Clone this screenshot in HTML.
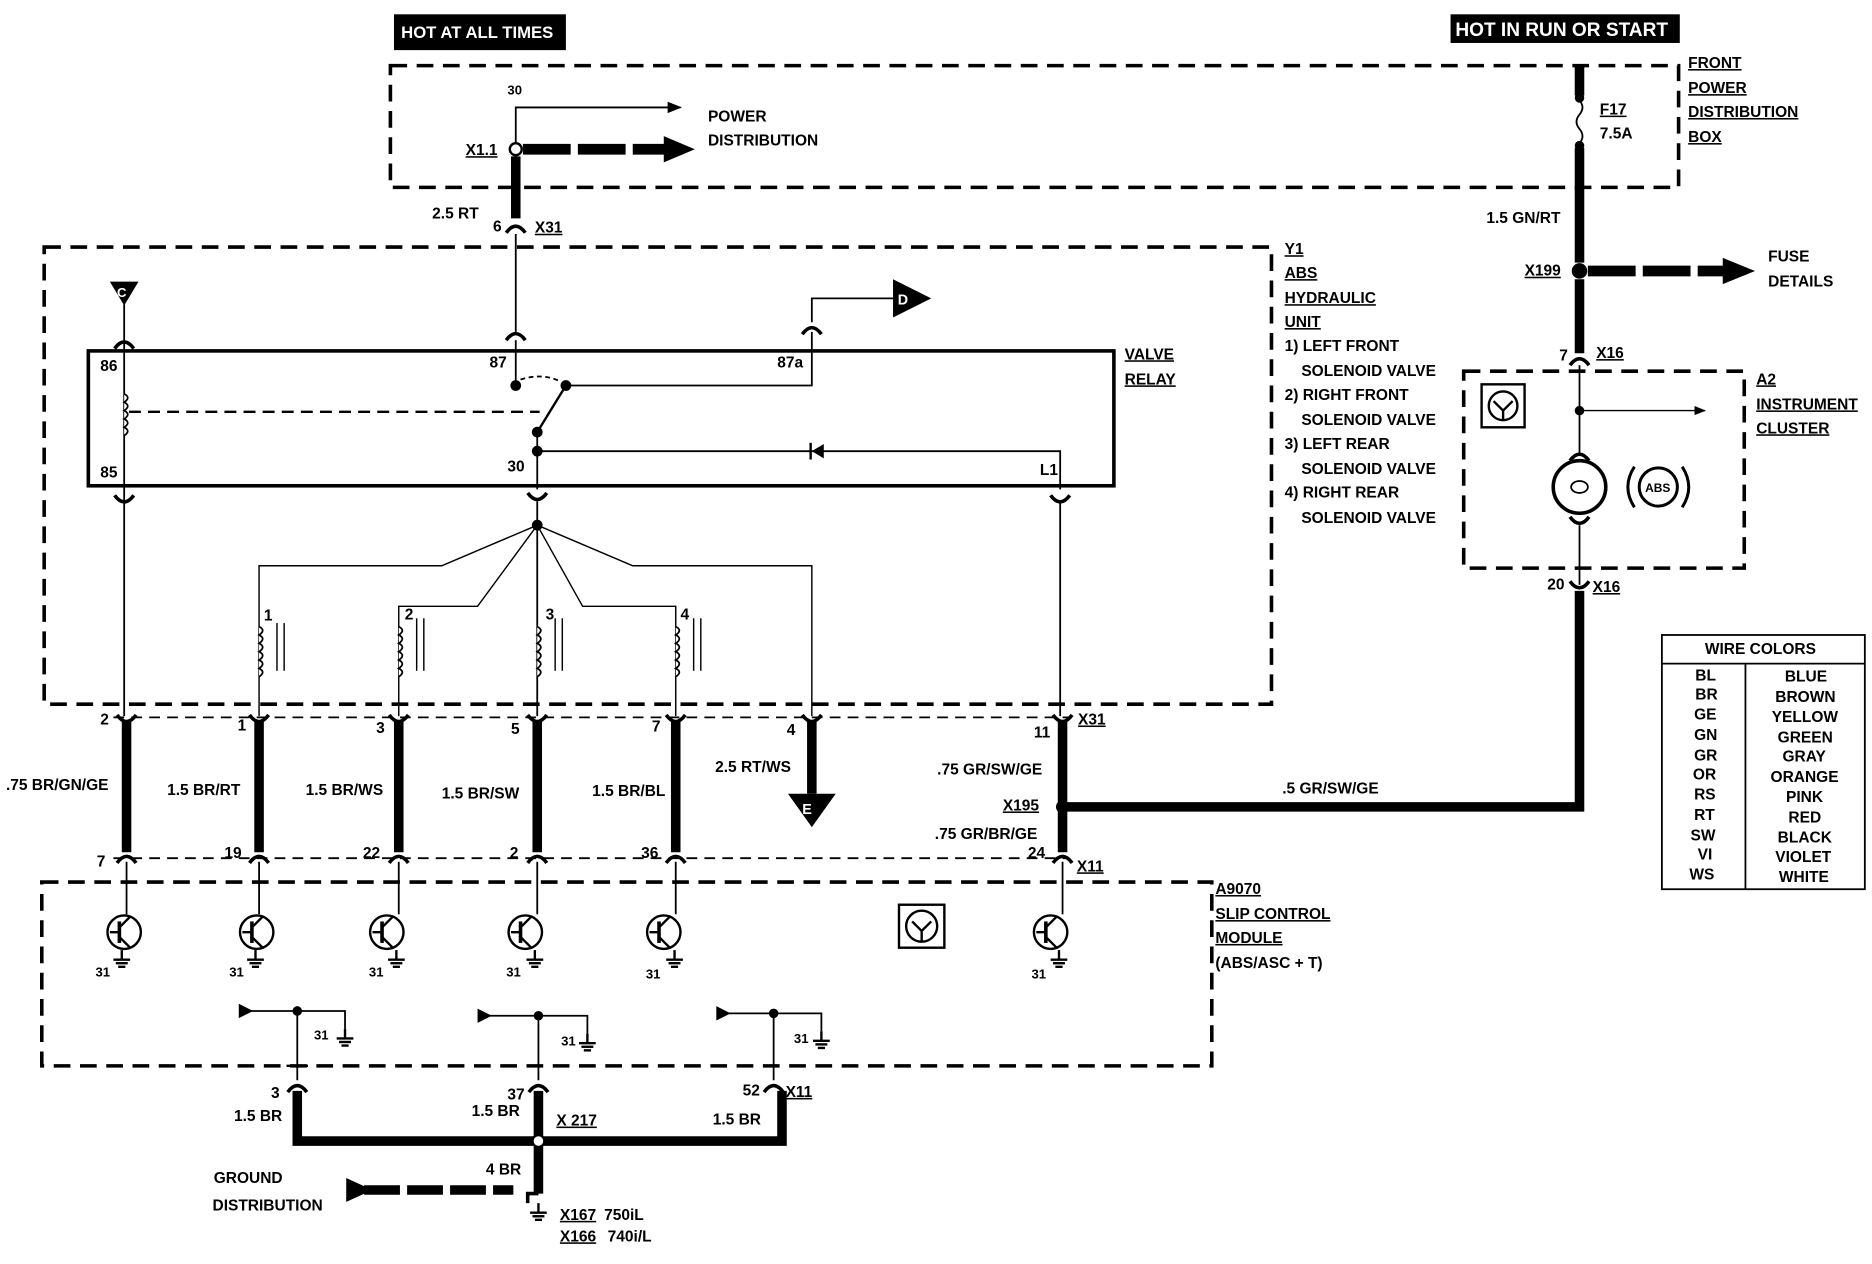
<!DOCTYPE html>
<html><head><meta charset="utf-8"><style>
html,body{margin:0;padding:0;background:#fff}
svg{display:block}
text{font-family:"Liberation Sans",Arial,sans-serif;font-weight:bold;font-size:13px;fill:#000}
.u{text-decoration:underline}
</style></head><body>
<svg width="1872" height="1264" viewBox="0 0 1568 1059" preserveAspectRatio="none" xmlns="http://www.w3.org/2000/svg">
<defs>
<marker id="ah" viewBox="0 0 10 10" refX="9" refY="5" markerWidth="8" markerHeight="8" orient="auto"><path d="M0,1 L10,5 L0,9 z" fill="#000"/></marker>
<g id="tr"><circle cx="0" cy="0" r="14" fill="none" stroke="#000" stroke-width="2"/><line x1="-12" y1="0" x2="-4" y2="0" stroke="#000" stroke-width="2"/><line x1="-4" y1="-9" x2="-4" y2="9" stroke="#000" stroke-width="3"/><line x1="-4" y1="-4" x2="5" y2="-13" stroke="#000" stroke-width="2"/><line x1="-4" y1="4" x2="5" y2="13" stroke="#000" stroke-width="2"/></g>
<g id="gnd"><line x1="0" y1="0" x2="0" y2="8" stroke="#000" stroke-width="2"/><line x1="-7" y1="8" x2="7" y2="8" stroke="#000" stroke-width="2"/><line x1="-5" y1="11" x2="5" y2="11" stroke="#000" stroke-width="2"/><line x1="-3" y1="14" x2="3" y2="14" stroke="#000" stroke-width="2"/></g>
<g id="cf"><path d="M-8,-5 Q0,6 8,-5" fill="none" stroke="#000" stroke-width="3"/></g>
<g id="cu"><path d="M-8,5 Q0,-6 8,5" fill="none" stroke="#000" stroke-width="3"/></g>
</defs>
<g fill="none" stroke="#000">
<!-- header boxes -->
<rect x="330" y="12" width="144" height="30" fill="#000" stroke="none"/>
<rect x="1215" y="12" width="192" height="24" fill="#000" stroke="none"/>
<!-- front power dist box -->
<rect x="327" y="55" width="1079" height="102" stroke-width="3" stroke-dasharray="14,8"/>
<!-- Y1 box -->
<rect x="37" y="207" width="1028" height="383" stroke-width="3" stroke-dasharray="14,8"/>
<!-- relay -->
<rect x="74" y="294" width="859" height="113" stroke-width="3"/>
<!-- power distribution -->
<polyline points="432,160 432,90 570,90" stroke-width="1.5" marker-end="url(#ah)"/>
<line x1="438" y1="125" x2="560" y2="125" stroke-width="9" stroke-dasharray="40,6"/>
<path d="M556,114 L582,125 L556,136 z" fill="#000" stroke="none"/>
<circle cx="432" cy="125" r="5" fill="#fff" stroke-width="2"/>
<line x1="432" y1="131" x2="432" y2="183" stroke-width="8"/>
<use href="#cu" x="432" y="190"/>
<line x1="432" y1="196" x2="432" y2="278" stroke-width="1.5"/>
<use href="#cu" x="432" y="280"/>
<line x1="432" y1="285" x2="432" y2="323" stroke-width="1.5"/>
<circle cx="432" cy="323" r="4" fill="#000"/>
<path d="M436,318 Q455,312 470,320" stroke-width="1.5" stroke-dasharray="4,3"/>
<circle cx="474" cy="323" r="4" fill="#000"/>
<polyline points="474,323 680,323 680,278" stroke-width="1.5"/>
<use href="#cu" x="680" y="275"/>
<polyline points="680,270 680,250 748,250" stroke-width="1.5"/>
<path d="M748,234 L780,250 L748,266 z" fill="#000" stroke="none"/>
<line x1="474" y1="323" x2="450" y2="362" stroke-width="2"/>
<circle cx="450" cy="362" r="4" fill="#000"/>
<circle cx="450" cy="378" r="4" fill="#000"/>
<line x1="450" y1="362" x2="450" y2="410" stroke-width="1.5"/>
<polyline points="450,378 888,378 888,410" stroke-width="1.5"/>
<path d="M690,372 L680,378 L690,384 z" fill="#000" stroke="none"/><line x1="679" y1="371" x2="679" y2="385" stroke-width="2"/>
<!-- coil 86/85 -->
<line x1="104" y1="255" x2="104" y2="600" stroke-width="1.5"/>
<path d="M92,236 L116,236 L104,256 z" fill="#000" stroke="none"/>
<use href="#cu" x="104" y="287"/>
<use href="#cf" x="104" y="420"/>
<path d="M104,330 q6,3 0,7 q6,3 0,7 q6,3 0,7 q6,3 0,7 q6,3 0,7" stroke-width="1.5" fill="#fff"/>
<line x1="108" y1="345" x2="452" y2="345" stroke-width="2" stroke-dasharray="10,6"/>
<!-- 30 fan -->
<use href="#cf" x="450" y="418"/>
<circle cx="450" cy="440" r="4" fill="#000"/>
<line x1="450" y1="420" x2="450" y2="600" stroke-width="1.5"/>
<polyline points="450,440 370,474 217,474 217,600" stroke-width="1.2"/>
<polyline points="450,440 400,508 334,508 334,600" stroke-width="1.2"/>
<polyline points="450,440 488,508 566,508 566,600" stroke-width="1.2"/>
<polyline points="450,440 530,474 680,474 680,600" stroke-width="1.2"/>
<g stroke-width="1.5" fill="#fff">
<path d="M217,525 q6,3 0,7 q6,3 0,7 q6,3 0,7 q6,3 0,7 q6,3 0,7 q6,3 0,7"/>
<path d="M334,525 q6,3 0,7 q6,3 0,7 q6,3 0,7 q6,3 0,7 q6,3 0,7 q6,3 0,7"/>
<path d="M450,525 q6,3 0,7 q6,3 0,7 q6,3 0,7 q6,3 0,7 q6,3 0,7 q6,3 0,7"/>
<path d="M566,525 q6,3 0,7 q6,3 0,7 q6,3 0,7 q6,3 0,7 q6,3 0,7 q6,3 0,7"/>
</g>
<g stroke-width="1.2">
<line x1="232" y1="522" x2="232" y2="562"/><line x1="238" y1="522" x2="238" y2="562"/>
<line x1="349" y1="518" x2="349" y2="562"/><line x1="355" y1="518" x2="355" y2="562"/>
<line x1="465" y1="518" x2="465" y2="562"/><line x1="471" y1="518" x2="471" y2="562"/>
<line x1="581" y1="518" x2="581" y2="562"/><line x1="587" y1="518" x2="587" y2="562"/>
</g>
<use href="#cf" x="888" y="420"/>
<line x1="888" y1="420" x2="888" y2="600" stroke-width="1.5"/>
<!-- connector rows -->
<line x1="95" y1="601" x2="895" y2="601" stroke-width="1.5" stroke-dasharray="9,6"/>
<line x1="95" y1="719" x2="895" y2="719" stroke-width="1.5" stroke-dasharray="9,6"/>
<g stroke-width="8">
<line x1="106" y1="604" x2="106" y2="714"/><line x1="217" y1="604" x2="217" y2="714"/>
<line x1="334" y1="604" x2="334" y2="714"/><line x1="450" y1="604" x2="450" y2="714"/>
<line x1="566" y1="604" x2="566" y2="714"/><line x1="680" y1="604" x2="680" y2="665"/>
<line x1="890" y1="604" x2="890" y2="714"/>
</g>
<path d="M660,665 L700,665 L680,693 z" fill="#000" stroke="none"/>
<g>
<use href="#cf" x="106" y="604"/><use href="#cf" x="217" y="604"/><use href="#cf" x="334" y="604"/><use href="#cf" x="450" y="604"/><use href="#cf" x="566" y="604"/><use href="#cf" x="680" y="604"/><use href="#cf" x="890" y="604"/>
<use href="#cu" x="106" y="718"/><use href="#cu" x="217" y="718"/><use href="#cu" x="334" y="718"/><use href="#cu" x="450" y="718"/><use href="#cu" x="566" y="718"/><use href="#cu" x="890" y="718"/>
</g>
<polyline points="890,676 1323,676 1323,495" stroke-width="8"/>
<circle cx="890" cy="676" r="5" fill="#000"/>
<!-- module -->
<rect x="35" y="739" width="980" height="154" stroke-width="3" stroke-dasharray="14,8"/>
<g stroke-width="1.5">
<line x1="106" y1="722" x2="106" y2="766"/><line x1="217" y1="722" x2="217" y2="766"/><line x1="334" y1="722" x2="334" y2="766"/><line x1="450" y1="722" x2="450" y2="766"/><line x1="566" y1="722" x2="566" y2="766"/><line x1="890" y1="722" x2="890" y2="766"/>
</g>
<use href="#tr" x="104" y="781"/><use href="#tr" x="215" y="781"/><use href="#tr" x="324" y="781"/><use href="#tr" x="440" y="781"/><use href="#tr" x="556" y="781"/><use href="#tr" x="880" y="781"/>
<use href="#gnd" x="102" y="796"/><use href="#gnd" x="214" y="796"/><use href="#gnd" x="332" y="796"/><use href="#gnd" x="448" y="796"/><use href="#gnd" x="565" y="796"/><use href="#gnd" x="887" y="796"/>
<rect x="753" y="758" width="38" height="36" stroke-width="2"/><circle cx="772" cy="776" r="13" stroke-width="2"/><path d="M764,772 L772,780 L780,772 M772,780 L772,788" stroke-width="2"/>
<!-- ground wiring -->
<g stroke-width="1.5">
<polyline points="210,847 249,847 249,905"/><polyline points="410,851 451,851 451,905"/><polyline points="610,849 648,849 648,905"/>
<polyline points="249,847 289,847 289,862"/><polyline points="451,851 492,851 492,866"/><polyline points="648,849 688,849 688,864"/>
</g>
<path d="M200,841 L212,847 L200,853 z" fill="#000" stroke="none"/><path d="M400,845 L412,851 L400,857 z" fill="#000" stroke="none"/><path d="M600,843 L612,849 L600,855 z" fill="#000" stroke="none"/>
<circle cx="249" cy="847" r="3.5" fill="#000"/><circle cx="451" cy="851" r="3.5" fill="#000"/><circle cx="648" cy="849" r="3.5" fill="#000"/>
<use href="#gnd" x="289" y="862"/><use href="#gnd" x="492" y="866"/><use href="#gnd" x="688" y="864"/>
<line x1="240" y1="893" x2="258" y2="893" stroke-width="2"/>
<use href="#cu" x="249" y="910"/><use href="#cu" x="451" y="910"/><use href="#cu" x="648" y="910"/>
<polyline points="249,914 249,956 655,956 655,914" stroke-width="8"/>
<line x1="451" y1="914" x2="451" y2="1000" stroke-width="8"/>
<polyline points="451,1000 442,1000 442,1008" stroke-width="3"/>
<circle cx="451" cy="956" r="5" fill="#fff" stroke-width="2"/>
<line x1="305" y1="997" x2="430" y2="997" stroke-width="8" stroke-dasharray="30,6"/>
<path d="M290,987 L312,997 L290,1007 z" fill="#000" stroke="none"/>
<use href="#gnd" x="451" y="1008"/>
<!-- right side -->
<line x1="1323" y1="55" x2="1323" y2="80" stroke-width="8"/>
<circle cx="1323" cy="82" r="3.5" fill="#000"/>
<path d="M1323,84 q5,6 0,12 q-5,6 0,12 q5,6 0,12" stroke-width="1.5"/>
<circle cx="1323" cy="122" r="3.5" fill="#000"/>
<line x1="1323" y1="124" x2="1323" y2="220" stroke-width="8"/>
<circle cx="1323" cy="227" r="6" fill="#000"/>
<line x1="1330" y1="227" x2="1445" y2="227" stroke-width="9" stroke-dasharray="40,6"/>
<path d="M1443,216 L1470,227 L1443,238 z" fill="#000" stroke="none"/>
<line x1="1323" y1="234" x2="1323" y2="296" stroke-width="8"/>
<use href="#cu" x="1323" y="301"/>
<rect x="1226" y="311" width="235" height="165" stroke-width="3" stroke-dasharray="14,8"/>
<line x1="1323" y1="306" x2="1323" y2="380" stroke-width="1.5"/>
<circle cx="1323" cy="344" r="3.5" fill="#000"/>
<line x1="1323" y1="344" x2="1428" y2="344" stroke-width="1.2" marker-end="url(#ah)"/>
<use href="#cu" x="1323" y="381"/>
<circle cx="1323" cy="408" r="22" stroke-width="3"/>
<ellipse cx="1323" cy="408" rx="7" ry="5" stroke-width="1.5"/>
<use href="#cf" x="1323" y="438"/>
<line x1="1323" y1="440" x2="1323" y2="490" stroke-width="1.5"/>
<use href="#cf" x="1323" y="492"/>
<circle cx="1389" cy="408" r="16" stroke-width="2.5"/>
<path d="M1369,391 Q1358,408 1369,425 M1409,391 Q1420,408 1409,425" stroke-width="2.5"/>
<rect x="1241" y="322" width="36" height="36" stroke-width="2"/><circle cx="1259" cy="340" r="12" stroke-width="2"/><path d="M1251,336 L1259,344 L1267,336 M1259,344 L1259,352" stroke-width="2"/>
<!-- wire colors table -->
<rect x="1392" y="532" width="170" height="213" stroke-width="1.5"/>
<line x1="1392" y1="556" x2="1562" y2="556" stroke-width="1.5"/>
<line x1="1462" y1="556" x2="1462" y2="745" stroke-width="1.5"/>
</g>
<text x="336" y="32" style="fill:#fff;font-size:14px">HOT AT ALL TIMES</text>
<text x="1219" y="30" style="fill:#fff;font-size:16px">HOT IN RUN OR START</text>
<text x="425" y="79" style="font-size:11px">30</text>
<text x="593" y="102">POWER</text><text x="593" y="122">DISTRIBUTION</text>
<text x="390" y="130" class="u">X1.1</text>
<text x="362" y="183">2.5 RT</text><text x="413" y="194">6</text><text x="448" y="195" class="u">X31</text>
<text x="1414" y="57" class="u">FRONT</text><text x="1414" y="78" class="u">POWER</text><text x="1414" y="98" class="u">DISTRIBUTION</text><text x="1414" y="119" class="u">BOX</text>
<text x="1340" y="96" class="u">F17</text><text x="1340" y="116">7.5A</text>
<text x="1245" y="187">1.5 GN/RT</text>
<text x="1277" y="231" class="u">X199</text>
<text x="1481" y="219">FUSE</text><text x="1481" y="240">DETAILS</text>
<text x="1306" y="302">7</text><text x="1337" y="300" class="u">X16</text>
<text x="1471" y="322" class="u">A2</text><text x="1471" y="343" class="u">INSTRUMENT</text><text x="1471" y="363" class="u">CLUSTER</text>
<text x="1378" y="412" style="font-size:10px">ABS</text>
<text x="1296" y="494">20</text><text x="1334" y="496" class="u">X16</text>
<text x="98" y="249" style="fill:#fff;font-size:11px">C</text>
<text x="752" y="255" style="fill:#fff;font-size:12px">D</text>
<text x="672" y="682" style="fill:#fff;font-size:12px">E</text>
<text x="1076" y="213" class="u">Y1</text><text x="1076" y="233" class="u">ABS</text><text x="1076" y="254" class="u">HYDRAULIC</text><text x="1076" y="274" class="u">UNIT</text>
<text x="1076" y="294">1) LEFT FRONT</text><text x="1090" y="315">SOLENOID VALVE</text>
<text x="1076" y="335">2) RIGHT FRONT</text><text x="1090" y="356">SOLENOID VALVE</text>
<text x="1076" y="376">3) LEFT REAR</text><text x="1090" y="397">SOLENOID VALVE</text>
<text x="1076" y="417">4) RIGHT REAR</text><text x="1090" y="438">SOLENOID VALVE</text>
<text x="942" y="301" class="u">VALVE</text><text x="942" y="322" class="u">RELAY</text>
<text x="84" y="311">86</text><text x="84" y="400">85</text>
<text x="410" y="308">87</text><text x="651" y="308">87a</text>
<text x="425" y="395">30</text><text x="871" y="398">L1</text>
<text x="221" y="520">1</text><text x="339" y="519">2</text><text x="457" y="519">3</text><text x="570" y="519">4</text>
<text x="84" y="607">2</text><text x="199" y="612">1</text><text x="315" y="614">3</text><text x="428" y="615">5</text><text x="546" y="613">7</text><text x="659" y="616">4</text><text x="866" y="618">11</text><text x="903" y="607" class="u">X31</text>
<text x="5" y="662">.75 BR/GN/GE</text><text x="140" y="666">1.5 BR/RT</text><text x="256" y="666">1.5 BR/WS</text><text x="370" y="669">1.5 BR/SW</text><text x="496" y="667">1.5 BR/BL</text><text x="599" y="647">2.5 RT/WS</text>
<text x="785" y="649">.75 GR/SW/GE</text><text x="840" y="679" class="u">X195</text><text x="783" y="703">.75 GR/BR/GE</text><text x="1074" y="665">.5 GR/SW/GE</text>
<text x="81" y="726">7</text><text x="188" y="719">19</text><text x="304" y="719">22</text><text x="427" y="719">2</text><text x="537" y="719">36</text><text x="861" y="719">24</text><text x="902" y="730" class="u">X11</text>
<text x="1018" y="749" class="u">A9070</text><text x="1018" y="770" class="u">SLIP CONTROL</text><text x="1018" y="790" class="u">MODULE</text><text x="1018" y="811">(ABS/ASC + T)</text>
<text x="80" y="818" style="font-size:11px">31</text><text x="192" y="818" style="font-size:11px">31</text><text x="309" y="818" style="font-size:11px">31</text><text x="424" y="818" style="font-size:11px">31</text><text x="541" y="820" style="font-size:11px">31</text><text x="864" y="820" style="font-size:11px">31</text>
<text x="263" y="871" style="font-size:11px">31</text><text x="470" y="876" style="font-size:11px">31</text><text x="665" y="874" style="font-size:11px">31</text>
<text x="227" y="920">3</text><text x="196" y="939">1.5 BR</text><text x="425" y="921">37</text><text x="395" y="935">1.5 BR</text><text x="466" y="943" class="u">X 217</text><text x="622" y="918">52</text><text x="658" y="919" class="u">X11</text><text x="597" y="942">1.5 BR</text>
<text x="407" y="984">4 BR</text>
<text x="179" y="991">GROUND</text><text x="178" y="1014">DISTRIBUTION</text>
<text x="469" y="1022" class="u">X167</text><text x="506" y="1022">750iL</text>
<text x="469" y="1040" class="u">X166</text><text x="509" y="1040">740i/L</text>
<text x="1428" y="548">WIRE COLORS</text>
<g style="font-size:13px">
<text x="1420" y="570">BL</text><text x="1495" y="571">BLUE</text>
<text x="1420" y="586">BR</text><text x="1487" y="588">BROWN</text>
<text x="1419" y="603">GE</text><text x="1484" y="605">YELLOW</text>
<text x="1419" y="620">GN</text><text x="1489" y="622">GREEN</text>
<text x="1419" y="637">GR</text><text x="1493" y="638">GRAY</text>
<text x="1418" y="653">OR</text><text x="1483" y="655">ORANGE</text>
<text x="1419" y="670">RS</text><text x="1496" y="672">PINK</text>
<text x="1419" y="687">RT</text><text x="1498" y="689">RED</text>
<text x="1416" y="704">SW</text><text x="1489" y="706">BLACK</text>
<text x="1422" y="720">VI</text><text x="1487" y="722">VIOLET</text>
<text x="1415" y="737">WS</text><text x="1490" y="739">WHITE</text>
</g>
</svg>
</body></html>
